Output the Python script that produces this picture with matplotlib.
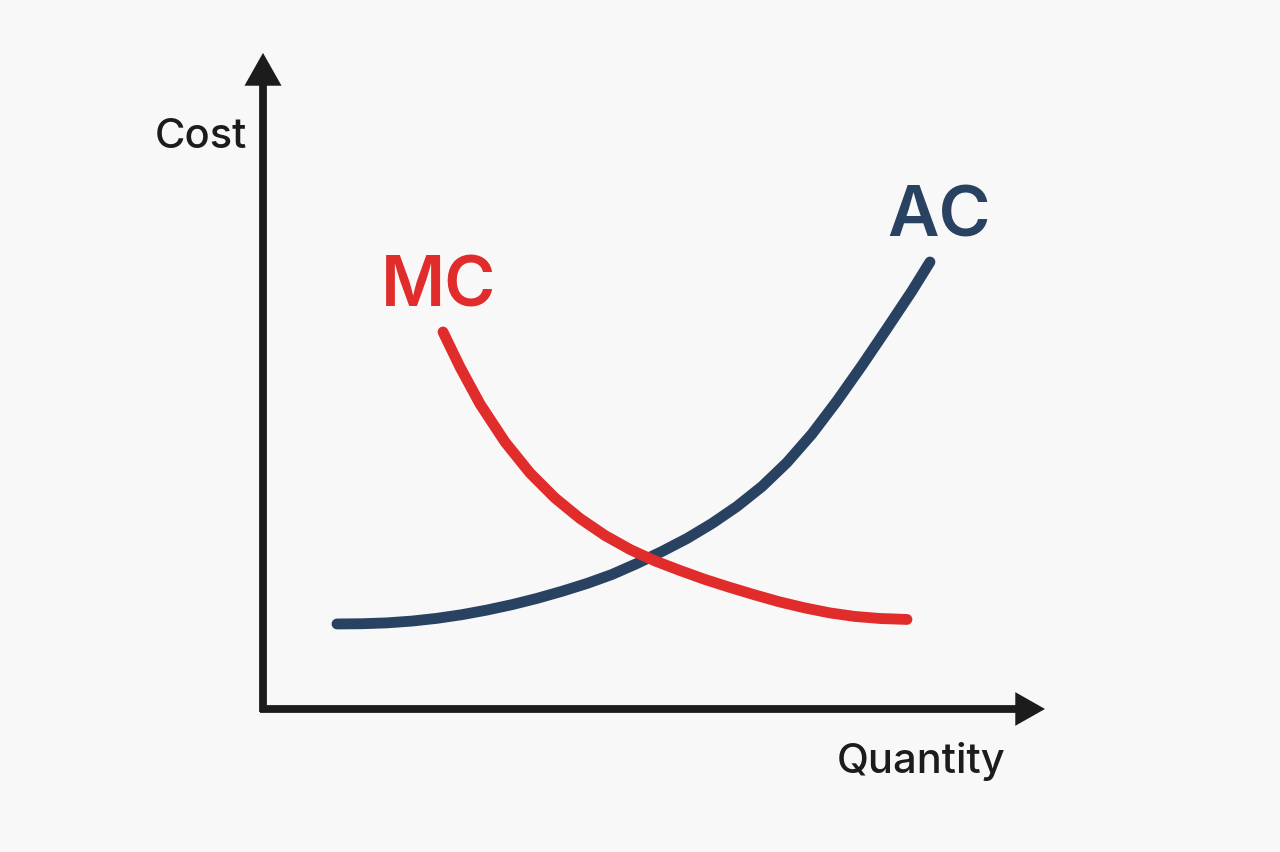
import matplotlib.pyplot as plt

# Curve values (quantity, cost), arbitrary units
ac_q = [0.946, 1.266, 1.586, 1.905, 2.225, 2.545, 2.864, 3.184, 3.504, 3.824,
        4.143, 4.463, 4.783, 5.102, 5.422, 5.742, 6.061, 6.381, 6.701, 7.020,
        7.340, 7.660, 7.980, 8.299, 8.529]
ac_cost = [1.087, 1.090, 1.101, 1.124, 1.159, 1.206, 1.265, 1.334, 1.414, 1.505,
           1.605, 1.720, 1.861, 2.014, 2.180, 2.372, 2.590, 2.845, 3.152, 3.517,
           3.939, 4.393, 4.866, 5.345, 5.716]

mc_q = [2.302, 2.519, 2.775, 3.095, 3.414, 3.734, 4.054, 4.373, 4.693, 5.013,
        5.332, 5.652, 5.972, 6.292, 6.611, 6.931, 7.251, 7.570, 7.890, 8.235]
mc_cost = [4.821, 4.373, 3.900, 3.414, 3.018, 2.698, 2.436, 2.219, 2.040, 1.893,
           1.771, 1.656, 1.554, 1.458, 1.368, 1.292, 1.228, 1.183, 1.157, 1.145]

bg = "#f8f8f8"
ink = "#1c1c1c"
red = "#e12c2c"
navy = "#2a4262"

fig = plt.figure(figsize=(12.8, 8.53), dpi=100, facecolor=bg)
ax = fig.add_axes([0, 0, 1, 1])
ax.set_facecolor(bg)
ax.set_xlim(-3.363, 13.005)
ax.set_ylim(-1.829, 9.079)
ax.axis("off")

# axes with arrowheads
ax.plot([0, 0], [-0.04, 8.0], color=ink, lw=5.6, solid_capstyle="butt")
ax.plot([-0.04, 9.65], [0, 0], color=ink, lw=5.6, solid_capstyle="butt")
ax.fill([-0.237, 0.237, 0], [7.97, 7.97, 8.39], color=ink, lw=0)
ax.fill([9.62, 9.62, 10.0], [-0.215, 0.215, 0], color=ink, lw=0)

# curves
ax.plot(ac_q, ac_cost, color=navy, lw=7.8, solid_capstyle="round", solid_joinstyle="round")
ax.plot(mc_q, mc_cost, color=red, lw=7.8, solid_capstyle="round", solid_joinstyle="round")

# labels
ax.text(-0.205, 7.33, "Cost", fontsize=30, color=ink, ha="right", va="center",
        family="Inter", fontweight="medium")
ax.text(9.49, -0.66, "Quantity", fontsize=30, color=ink, ha="right", va="center",
        family="Inter", fontweight="medium")
ax.text(2.24, 5.39, "MC", fontsize=50, color=red, ha="center", va="center",
        family="Inter", fontweight="semibold")
ax.text(8.645, 6.29, "AC", fontsize=51, color=navy, ha="center", va="center",
        family="Inter", fontweight="semibold")

fig.savefig("out.png", dpi=100, facecolor=bg)
